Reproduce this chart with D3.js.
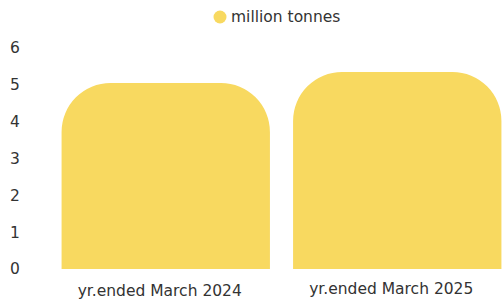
<!DOCTYPE html>
<html>
<head>
<meta charset="utf-8">
<script src="https://cdn.jsdelivr.net/npm/d3@7"></script>
<style>
  body { margin: 0; background: #fff; }
  text { font-family: "DejaVu Sans", Verdana, sans-serif; fill: #333; }
</style>
</head>
<body>
<div id="chart-area"></div>
<script>
// data
var categories = ["yr.ended March 2024", "yr.ended March 2025"];
var values = [5.05, 5.35];
var yTicks = [0, 1, 2, 3, 4, 5, 6];
var seriesName = "million tonnes";

var width = 502, height = 299;
var color = "#f8d960";

var svg = d3.select("#chart-area").append("svg")
    .attr("width", width)
    .attr("height", height);

var x = d3.scaleBand()
    .domain(categories)
    .range([50, 513])
    .paddingInner(0.1)
    .paddingOuter(0.05);

var y = d3.scaleLinear()
    .domain([0, 6])
    .range([269, 48]);

// y axis labels only, no lines
var yAxis = d3.axisLeft(y).tickValues(yTicks).tickFormat(d3.format("d"))
    .tickSize(0).tickPadding(0);
var gy = svg.append("g")
    .attr("transform", "translate(20,0)")
    .call(yAxis);
gy.select(".domain").remove();
gy.selectAll("text")
    .attr("font-size", "15.5px")
    .attr("font-family", "DejaVu Sans, Verdana, sans-serif")
    .attr("fill", "#333")
    .attr("text-anchor", "middle")
    .attr("x", -5);

// bar with rounded top corners
function barPath(x0, y0, w, h, r) {
    r = Math.min(r, w / 2, h);
    return "M" + x0 + "," + (y0 + h) +
        "V" + (y0 + r) +
        "A" + r + "," + r + " 0 0 1 " + (x0 + r) + "," + y0 +
        "H" + (x0 + w - r) +
        "A" + r + "," + r + " 0 0 1 " + (x0 + w) + "," + (y0 + r) +
        "V" + (y0 + h) + "Z";
}

svg.selectAll("path.bar")
    .data(values)
    .enter()
    .append("path")
        .attr("class", "bar")
        .attr("fill", color)
        .attr("d", function(d, i) {
            var x0 = x(categories[i]);
            return barPath(x0, y(d), x.bandwidth(), y(0) - y(d), 49);
        });

// x labels (second one sits a touch higher in the original)
var labelDy = [296, 294];
svg.selectAll("text.xlab")
    .data(categories)
    .enter()
    .append("text")
        .attr("class", "xlab")
        .attr("x", function(d) { return x(d) + x.bandwidth() / 2 - 6; })
        .attr("y", function(d, i) { return labelDy[i]; })
        .attr("text-anchor", "middle")
        .attr("font-size", "15.5px")
        .text(function(d) { return d; });

// legend
var legend = svg.append("g");
legend.append("circle")
    .attr("cx", 220)
    .attr("cy", 17)
    .attr("r", 6.5)
    .attr("fill", color);
legend.append("text")
    .attr("x", 231)
    .attr("y", 22)
    .attr("font-size", "15.5px")
    .text(seriesName);
</script>
</body>
</html>
